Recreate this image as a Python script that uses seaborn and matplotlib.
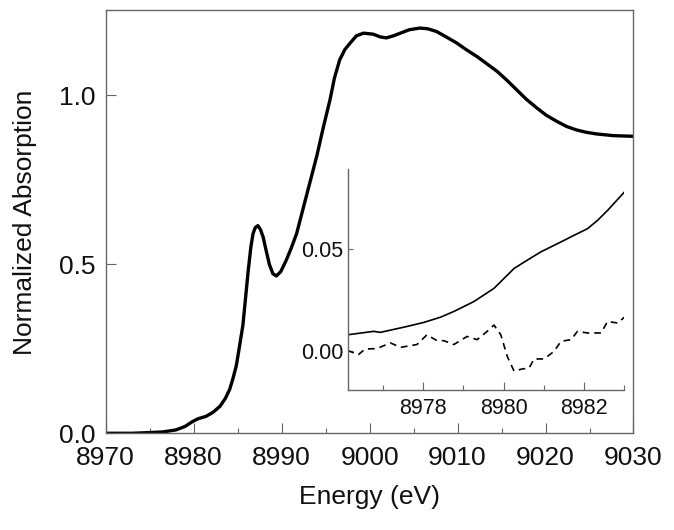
import numpy as np
import pandas as pd
import matplotlib
matplotlib.use("Agg")
import matplotlib.pyplot as plt
import seaborn as sns

# ---- Main XANES spectrum ----
energy_main = [8970.0, 8973.0, 8975.0, 8976.5, 8978.0, 8979.0, 8979.9, 8980.5,
               8981.4, 8982.2, 8983.0, 8983.6, 8984.1, 8984.5, 8984.85, 8985.2,
               8985.6, 8985.9, 8986.2, 8986.5, 8986.75, 8987.0, 8987.3, 8987.6,
               8987.9, 8988.2, 8988.6, 8989.0, 8989.4, 8989.9, 8990.5, 8991.1,
               8991.7, 8992.4, 8993.2, 8994.0, 8994.7, 8995.5, 8996.0, 8996.6,
               8997.2, 8997.8, 8998.5, 8999.3, 9000.4, 9001.2, 9001.9, 9002.7,
               9003.5, 9004.5, 9005.7, 9006.6, 9007.6, 9008.7, 9009.9, 9011.0,
               9012.2, 9013.3, 9014.5, 9015.6, 9016.7, 9017.8, 9019.0, 9020.1,
               9021.3, 9022.4, 9023.5, 9024.6, 9025.8, 9027.7, 9030.0]
absorb_main = [0.000, 0.000, 0.002, 0.004, 0.010, 0.020, 0.035, 0.043,
               0.050, 0.062, 0.080, 0.103, 0.130, 0.165, 0.200, 0.255,
               0.320, 0.400, 0.480, 0.550, 0.590, 0.608, 0.614, 0.602,
               0.580, 0.545, 0.500, 0.472, 0.465, 0.478, 0.510, 0.548,
               0.590, 0.660, 0.740, 0.820, 0.900, 0.986, 1.050, 1.104,
               1.135, 1.154, 1.175, 1.183, 1.180, 1.172, 1.169, 1.175,
               1.183, 1.193, 1.198, 1.196, 1.188, 1.172, 1.154, 1.134,
               1.114, 1.093, 1.070, 1.044, 1.016, 0.988, 0.962, 0.940,
               0.922, 0.907, 0.897, 0.890, 0.885, 0.880, 0.878]

# ---- Inset: pre-edge region ----
energy_inset_solid = [8976.11, 8976.76, 8976.93, 8977.59, 8978.01, 8978.43, 8978.76,
                      8979.26, 8979.76, 8980.26, 8980.59, 8980.93, 8981.43, 8981.76,
                      8982.09, 8982.34, 8982.59, 8983.03]
absorb_inset_solid = [0.0078, 0.0095, 0.0090, 0.0119, 0.0139, 0.0165, 0.0193,
                      0.0242, 0.0307, 0.0405, 0.0446, 0.0487, 0.0536, 0.0569,
                      0.0601, 0.0642, 0.0691, 0.0786]

energy_inset_dash = [8976.11, 8976.38, 8976.55, 8976.84, 8977.18, 8977.43, 8977.84,
                     8978.09, 8978.34, 8978.51, 8978.76, 8979.09, 8979.34, 8979.59,
                     8979.76, 8979.93, 8980.09, 8980.26, 8980.47, 8980.63, 8980.76,
                     8981.01, 8981.26, 8981.43, 8981.68, 8981.84, 8982.09, 8982.43,
                     8982.59, 8982.84, 8983.03]
absorb_inset_dash = [0.0001, -0.0020, 0.0008, 0.0010, 0.0038, 0.0016, 0.0030,
                     0.0078, 0.0049, 0.0049, 0.0030, 0.0070, 0.0054, 0.0095,
                     0.0126, 0.0078, -0.0028, -0.0101, -0.0090, -0.0087, -0.0041,
                     -0.0041, -0.0003, 0.0046, 0.0054, 0.0095, 0.0087, 0.0087,
                     0.0144, 0.0136, 0.0168]

main_xticks = [8970, 8980, 8990, 9000, 9010, 9020, 9030]
main_yticks = [0.0, 0.5, 1.0]
inset_xticks = [8978, 8980, 8982]
inset_yticks = [0.00, 0.05]

sns.set_style("ticks")
plt.rcParams['font.family'] = ['Liberation Sans', 'DejaVu Sans']

df_main = pd.DataFrame({"Energy": energy_main, "Abs": absorb_main})
df_solid = pd.DataFrame({"Energy": energy_inset_solid, "Abs": absorb_inset_solid})
df_dash = pd.DataFrame({"Energy": energy_inset_dash, "Abs": absorb_inset_dash})

fig = plt.figure(figsize=(6.74, 5.30), dpi=100)
spine_c = "#666666"
txt_c = "#111111"

ax = fig.add_axes([0.1568, 0.1825, 0.7831, 0.7977])
sns.lineplot(data=df_main, x="Energy", y="Abs", ax=ax, color="black", linewidth=2.4,
             sort=True, estimator=None)
ax.lines[-1].set_solid_joinstyle("round")
ax.set_xlim(8970, 9030)
ax.set_ylim(0, 1.25)
ax.set_xticks(main_xticks)
ax.set_xticks(np.arange(8975, 9030, 10), minor=True)
ax.set_yticks(main_yticks)
ax.set_yticklabels([f"{v:.1f}" for v in main_yticks])
ax.tick_params(axis="both", which="major", direction="in", length=7.5, width=0.8,
               color=spine_c, labelsize=19, labelcolor=txt_c, pad=7)
ax.tick_params(axis="x", which="major", pad=9)
ax.tick_params(axis="x", which="minor", direction="in", length=3.8, width=0.8, color=spine_c)
ax.set_xlabel("Energy (eV)", fontsize=19, color=txt_c, labelpad=11)
ax.set_ylabel("Normalized Absorption", fontsize=19, color=txt_c, labelpad=16)
for s in ax.spines.values():
    s.set_color(spine_c)
    s.set_linewidth(1.0)

# Inset
axi = fig.add_axes([0.5156, 0.2642, 0.4102, 0.4164])
sns.lineplot(data=df_solid, x="Energy", y="Abs", ax=axi, color="black", linewidth=1.2,
             estimator=None)
sns.lineplot(data=df_dash, x="Energy", y="Abs", ax=axi, color="black", linewidth=1.2,
             estimator=None, linestyle=(0, (4, 3)))
axi.set_xlim(8976.11, 8983.0)
axi.set_ylim(-0.0194, 0.0894)
axi.set_xticks(inset_xticks)
axi.set_xticks([8977, 8979, 8981, 8983], minor=True)
axi.set_yticks(inset_yticks)
axi.set_yticklabels([f"{v:.2f}" for v in inset_yticks])
axi.tick_params(axis="x", which="major", direction="in", length=5.8, width=0.8,
                color=spine_c, labelsize=15.5, labelcolor=txt_c, pad=6)
axi.tick_params(axis="x", which="minor", direction="in", length=3.6, width=0.8, color=spine_c)
axi.tick_params(axis="y", which="major", direction="in", length=3.6, width=0.8,
                color=spine_c, labelsize=15.5, labelcolor=txt_c, pad=3)
axi.set_xlabel("")
axi.set_ylabel("")
axi.patch.set_alpha(0)
axi.spines["top"].set_visible(False)
axi.spines["right"].set_visible(False)
for k in ("left", "bottom"):
    axi.spines[k].set_color(spine_c)
    axi.spines[k].set_linewidth(1.0)

fig.savefig("out.png", dpi=100)
